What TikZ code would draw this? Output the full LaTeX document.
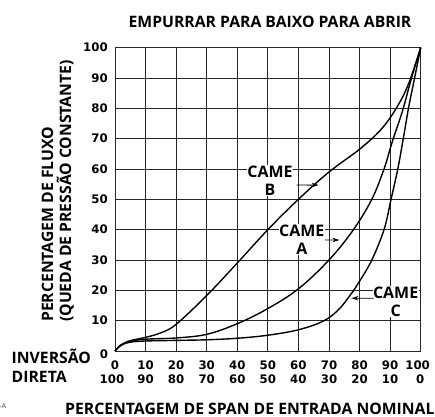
\documentclass[tikz,border=0pt]{standalone}
\usepackage{fontspec}
\setmainfont{Open Sans}
\newfontfamily\numfont{DejaVu Sans}
\newfontfamily\smallfont{Liberation Sans}
\usetikzlibrary{arrows.meta}
\begin{document}
\begin{tikzpicture}[x=1bp,y=1bp,
  lbl/.style={font=\fontsize{15.8}{18}\selectfont\bfseries},
  num/.style={font=\numfont\fontsize{11.8}{13}\selectfont\bfseries, inner sep=0pt},
  cam/.style={font=\fontsize{16}{18.5}\selectfont\bfseries, align=center, fill=white, inner sep=0.5bp},
  gridln/.style={line width=0.8bp, black!85},
  curve/.style={line width=1.4bp, black},
  ptr/.style={line width=0.9bp, -{Stealth[length=7bp,width=4.5bp]}}]
\useasboundingbox (0,0) rectangle (435,416);
\node[lbl, anchor=center] (title) at (270,394.5) {EMPURRAR PARA BAIXO PARA ABRIR};
\node[lbl, anchor=base west, inner sep=0pt] (xtitle) at (65,1.5) {PERCENTAGEM DE SPAN DE ENTRADA NOMINAL};
\node[lbl, rotate=90, anchor=base west, inner sep=0pt] (ylab1) at (53,94) {PERCENTAGEM DE FLUXO};
\node[lbl, rotate=90, anchor=base west, inner sep=0pt] (ylab2) at (71,94) {(QUEDA DE PRESSÃO CONSTANTE)};
\node[lbl, anchor=base west, inner sep=0pt] (inv) at (11.5,52.7) {INVERSÃO};
\node[lbl, anchor=base west, inner sep=0pt] (dir) at (11.5,33.3) {DIRETA};
\node[font=\smallfont\fontsize{7}{8}\selectfont, text=black!70, anchor=base west, inner sep=0pt] (fig) at (-1,8) {-A};
\begin{scope}[shift={(115,65)}, xscale=3.057, yscale=3.034]
  \draw[gridln] (0,0) grid[step=10] (100,100);
  \draw[gridln] (0,0) rectangle (100,100);
  % y ticks
  \foreach \v in {10,20,...,100} {
    \node[num, anchor=east] (y\v) at (-2.3,\v) {\v};
  }
  \node[num, anchor=east] (y0) at (-2.2,-1) {0};
  % x ticks
  \foreach \v in {0,10,...,90} {
    \node[num] (xa\v) at (\v,-4.6) {\v};
  }
  \node[num] (xa100) at (99,-4.6) {100};
  \node[num] (xb0) at (99.8,-9.2) {0};
  \foreach \v/\w in {10/90,20/80,30/70,40/60,50/50,60/40,70/30,80/20,90/10} {
    \node[num] (xb\w) at (\v,-9.2) {\w};
  }
  \node[num] (xb100) at (-1,-9.2) {100};
  % curves
  \draw[curve] plot[smooth, tension=0.6] coordinates {(0,0) (2,2) (5,3.4) (10,4.5) (15,6) (20,8.8) (30,18.3) (40,29) (50,40) (60,50) (70,59) (80,66.5) (87,73) (92,80) (96,88) (100,100)};
  \draw[curve] plot[smooth, tension=0.6] coordinates {(0,0) (2,2) (5,3.2) (10,3.9) (20,4.3) (30,5.5) (40,9) (50,14) (60,20.5) (70,30) (78,40) (84,50) (88,60) (90.7,69) (94,79) (97,90) (100,100)};
  \draw[curve] plot[smooth, tension=0.6] coordinates {(0,0) (2,1.9) (5,2.9) (10,3.3) (20,3.5) (30,3.7) (40,4.2) (50,5.2) (60,7) (68,9.8) (73,13.5) (77,18.5) (80,23) (84,30) (88,40) (90.3,50) (92.5,60) (94.3,70) (96,80) (98,90) (100,100)};
  % labels
  \node[cam] (camB) at (50.7,56.1) {CAME\\B};
  \node[cam] (camA) at (61.1,36.6) {CAME\\A};
  \node[cam] (camC) at (91.8,16.3) {CAME\\C};
  \coordinate (tipB) at (66.6,54.7);
  \coordinate (tipA) at (73.4,36.6);
  \coordinate (tipC) at (77.3,17.4);
  \draw[ptr] (59.4,54.7) -- (tipB);
  \draw[ptr] (68.7,36.6) -- (tipA);
  \draw[ptr] (84.6,17.4) -- (tipC);
\end{scope}
\end{tikzpicture}
\end{document}
